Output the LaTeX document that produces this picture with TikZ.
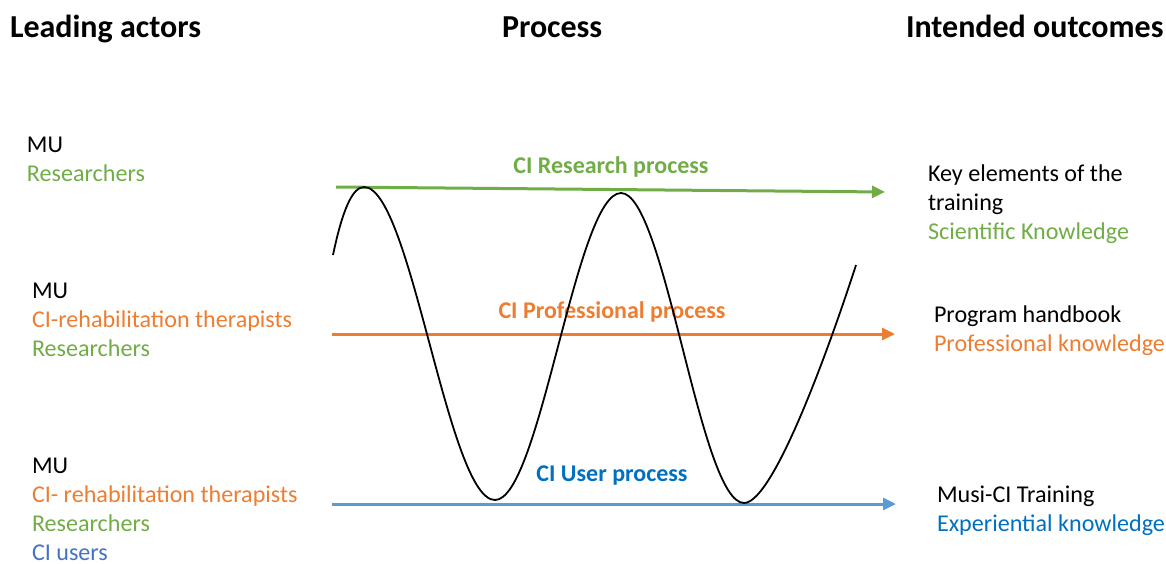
\documentclass[tikz,border=0pt]{standalone}
\usepackage{fontspec}
\setmainfont{Carlito}
\usetikzlibrary{arrows.meta}

\definecolor{resgreen}{HTML}{70AD47}
\definecolor{proforange}{HTML}{ED7D31}
\definecolor{userline}{HTML}{5B9BD5}
\definecolor{usertext}{HTML}{0070C0}
\definecolor{ciusers}{HTML}{4472C4}

\begin{document}
\begin{tikzpicture}[x=1pt,y=-1pt,
  every node/.style={inner sep=0pt, outer sep=0pt},
  title/.style={anchor=base west, font=\fontsize{32}{38}\selectfont\bfseries},
  item/.style={anchor=base west, font=\fontsize{24.1}{29}\selectfont},
  proclabel/.style={anchor=base, font=\fontsize{24}{29}\selectfont\bfseries},
  flow/.style={line width=3pt, -{Triangle[length=13pt,width=12pt]}},
  wave/.style={line width=1.8pt, black}
]
\useasboundingbox (0,0) rectangle (1166,563);

% column headings
\node[title] (hActors)   at (10,37)  {Leading actors};
\node[title] (hProcess)  at (502,37) {Process};
\node[title] (hOutcomes) at (906,37) {Intended outcomes};

% leading actors, research level
\node[item] (a1mu)  at (27,152) {MU};
\node[item, text=resgreen] (a1res) at (27,181) {Researchers};

% leading actors, professional level
\node[item] (a2mu)  at (32,298) {MU};
\node[item, text=proforange] (a2ther) at (32,327) {CI-rehabilitation therapists};
\node[item, text=resgreen] (a2res) at (32,356) {Researchers};

% leading actors, user level
\node[item] (a3mu)  at (32,473) {MU};
\node[item, text=proforange] (a3ther) at (32,502) {CI- rehabilitation therapists};
\node[item, text=resgreen] (a3res) at (32,531) {Researchers};
\node[item, text=ciusers] (a3users) at (32,560) {CI users};

% intended outcomes
\node[item] (o1a) at (928,181) {Key elements of the};
\node[item] (o1b) at (928,210) {training};
\node[item, text=resgreen] (o1c) at (928,239) {Scientific Knowledge};

\node[item] (o2a) at (934,322) {Program handbook};
\node[item, text=proforange] (o2b) at (934,351) {Professional knowledge};

\node[item] (o3a) at (937,502) {Musi-CI Training};
\node[item, text=usertext] (o3b) at (937,531) {Experiential knowledge};

% process flows
\coordinate (rStart) at (336,187);
\coordinate (rEnd)   at (885,192);
\coordinate (pStart) at (332,334);
\coordinate (pEnd)   at (895,334);
\coordinate (uStart) at (332,504);
\coordinate (uEnd)   at (896,504);

\draw[flow, resgreen]   (rStart) -- (rEnd);
\draw[flow, proforange] (pStart) -- (pEnd);
\draw[flow, userline]   (uStart) -- (uEnd);

\node[proclabel, text=resgreen]   (lRes)  at (611,173) {CI Research process};
\node[proclabel, text=proforange] (lProf) at (612,318) {CI Professional process};
\node[proclabel, text=usertext]   (lUser) at (612,481) {CI User process};

% wave linking the three levels
\draw[wave] (333,255)
  .. controls (342,212) and (352,187) .. (364,187)
  .. controls (411,187) and (448,500) .. (495,500)
  .. controls (540,500) and (576,193) .. (621,193)
  .. controls (665,193) and (700,503) .. (744,503)
  .. controls (775,503) and (835,330) .. (856,265);
\end{tikzpicture}
\end{document}
